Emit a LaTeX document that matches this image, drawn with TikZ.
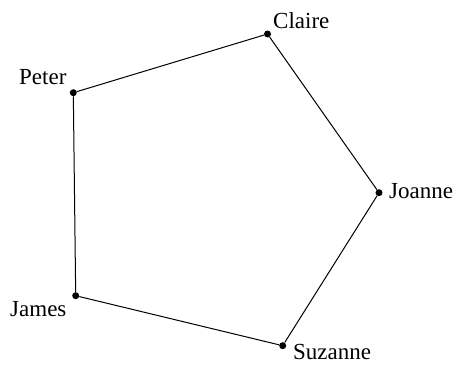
\documentclass[tikz,border=0pt]{standalone}
\usepackage{fontspec}
\setmainfont{Liberation Serif}
\begin{document}
\begin{tikzpicture}[x=1pt,y=-1pt,
  vertex/.style={circle,fill=black,inner sep=0pt,minimum size=7pt},
  lbl/.style={anchor=base west,inner sep=0pt,font=\fontsize{23}{26}\selectfont},
  edge/.style={draw=black,line width=1pt}]
\useasboundingbox (0,0) rectangle (454,364);
\node[vertex] (claire) at (267.5,34) {};
\node[vertex] (peter) at (73.3,92.7) {};
\node[vertex] (james) at (75.7,295.7) {};
\node[vertex] (suzanne) at (282.7,345.7) {};
\node[vertex] (joanne) at (379,192.7) {};
\draw[edge] (claire) -- (peter) -- (james) -- (suzanne) -- (joanne) -- (claire);
\node[lbl] (lclaire) at (273,28.3) {Claire};
\node[lbl] (lpeter) at (19,84.3) {Peter};
\node[lbl] (ljames) at (10,316.7) {James};
\node[lbl] (lsuzanne) at (293,359.8) {Suzanne};
\node[lbl] (ljoanne) at (389,198.3) {Joanne};
\end{tikzpicture}
\end{document}
